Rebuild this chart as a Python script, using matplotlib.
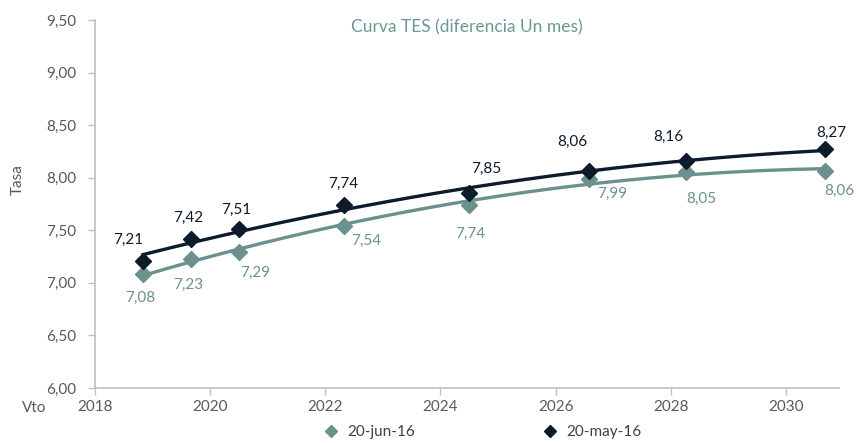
import numpy as np
import matplotlib
matplotlib.use("Agg")
import matplotlib.pyplot as plt
from matplotlib.ticker import FuncFormatter

# Vencimientos (años decimales) y tasas
vto = [2018.84, 2019.67, 2020.50, 2022.33, 2024.50, 2026.58, 2028.27, 2030.68]
tasa_jun = [7.08, 7.23, 7.29, 7.54, 7.74, 7.99, 8.05, 8.06]
tasa_may = [7.21, 7.42, 7.51, 7.74, 7.85, 8.06, 8.16, 8.27]
series_names = ["20-jun-16", "20-may-16"]

# label offsets in points (dx, dy)
off_jun = [(-2, -17), (-2, -19), (12, -15), (16, -11), (1, -21), (17, -11), (11, -19), (10, -14)]
off_may = [(-11, 15), (-2, 15), (-2, 14), (-1, 15), (12, 18), (-12, 21), (-13, 17), (4, 12)]

c_jun = "#6b918f"
c_may = "#0d1b2a"
c_txt = "#595959"
c_axis = "#bfbfbf"

plt.rcParams["font.family"] = ["Lato", "DejaVu Sans"]

fig = plt.figure(figsize=(8.58, 4.43), dpi=100)
ax = fig.add_axes([0.1104, 0.1242, 0.8676, 0.8306])

for y, col, name, offs in [(tasa_jun, c_jun, series_names[0], off_jun),
                           (tasa_may, c_may, series_names[1], off_may)]:
    coef = np.polyfit(vto, y, 2)
    xs = np.linspace(min(vto), max(vto), 200)
    ax.plot(xs, np.polyval(coef, xs), color=col, lw=2.4, zorder=2)
    ax.plot(vto, y, linestyle="none", marker="D", markersize=8.5, color=col,
            label=name, zorder=3)
    for xv, yv, (dx, dy) in zip(vto, y, offs):
        ax.annotate(f"{yv:.2f}".replace(".", ","), (xv, yv), xytext=(dx, dy),
                    textcoords="offset points", ha="center", va="center",
                    color=col, fontsize=11)

ax.set_xlim(2018, 2030.92)
ax.set_ylim(6.0, 9.5)
ax.set_xticks(range(2018, 2031, 2))
ax.set_yticks(np.arange(6.0, 9.51, 0.5))
ax.yaxis.set_major_formatter(FuncFormatter(lambda v, p: f"{v:.2f}".replace(".", ",")))

for s in ["top", "right"]:
    ax.spines[s].set_visible(False)
for s in ["left", "bottom"]:
    ax.spines[s].set_color(c_axis)
    ax.spines[s].set_linewidth(1.2)
ax.tick_params(colors=c_axis, labelcolor=c_txt, labelsize=11, length=5, width=1)
ax.tick_params(axis="y", pad=8)

fig.text(18 / 858, 1 - 180 / 443, "Tasa", color=c_txt, fontsize=11, rotation=90,
         ha="center", va="center")
fig.text(22 / 858, 1 - 408 / 443, "Vto", color=c_txt, fontsize=11, ha="left", va="center")
fig.text(467 / 858, 1 - 27 / 443, "Curva TES (diferencia Un mes)", color="#6a9995",
         fontsize=12.5, ha="center", va="center")

ax.legend(loc="center", bbox_to_anchor=(0.52, -0.12), ncol=2, frameon=False,
          fontsize=11, labelcolor="#404040", columnspacing=8.2, handletextpad=0.5,
          markerscale=0.7, handlelength=1.2)

fig.savefig("out.png", dpi=100)
